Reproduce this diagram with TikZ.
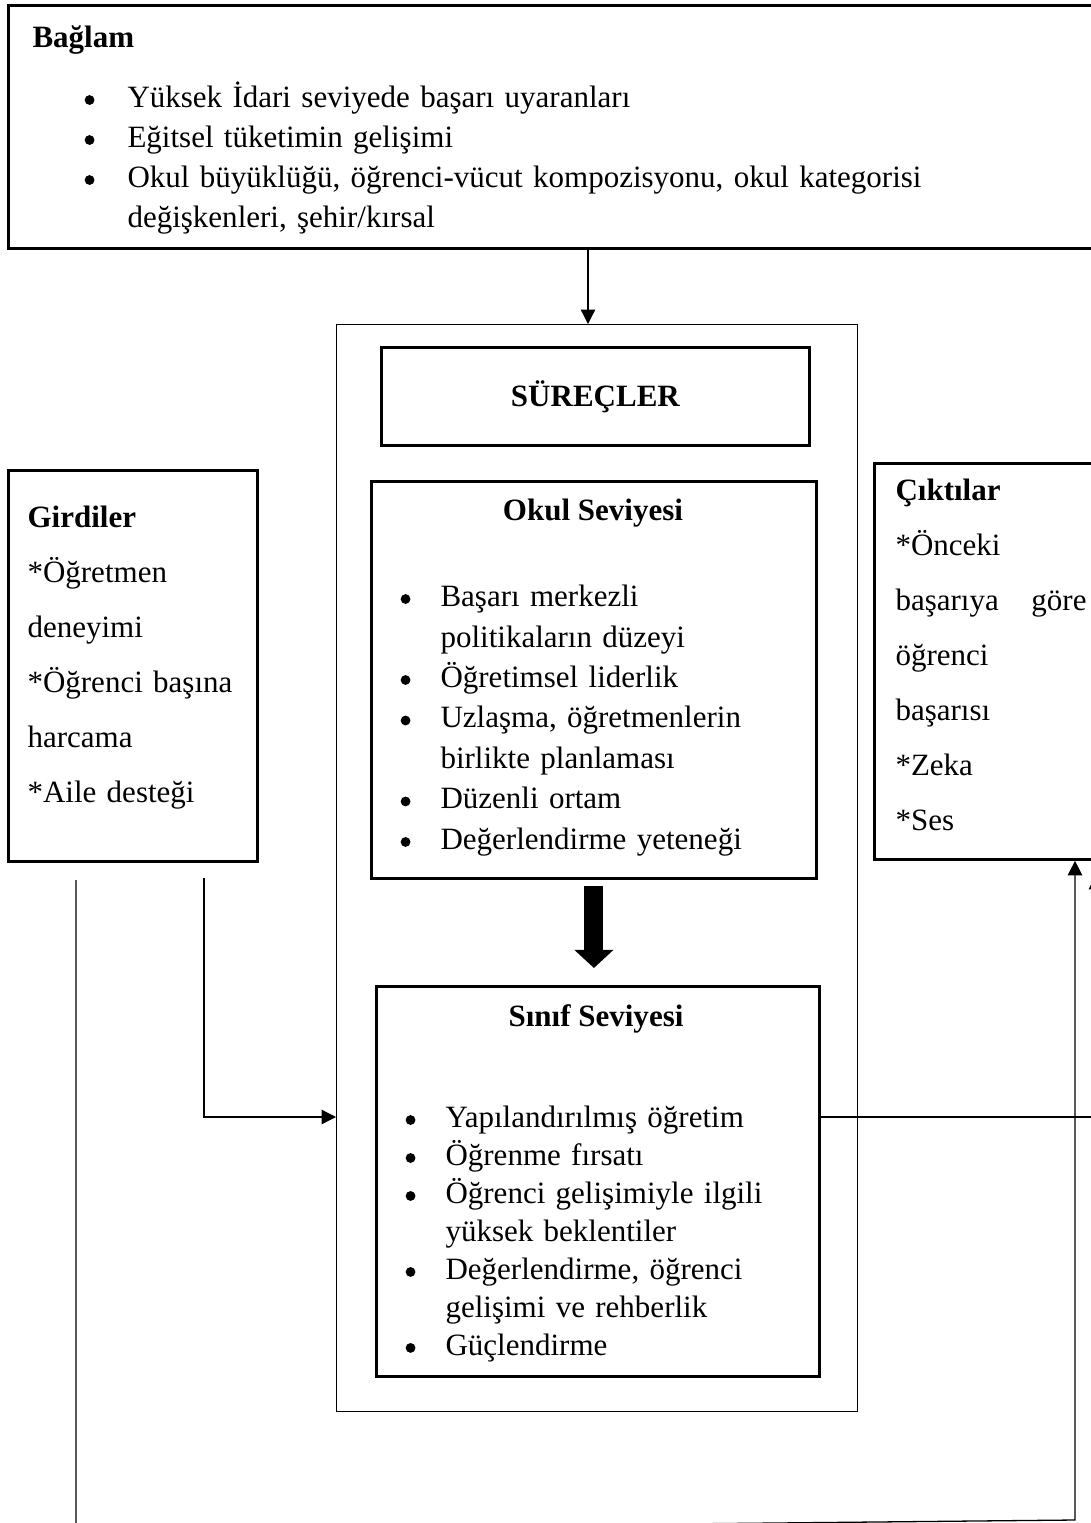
\documentclass[tikz,border=0pt]{standalone}
\usepackage{fontspec}
\setmainfont{Liberation Serif}
\usetikzlibrary{positioning,arrows.meta}
\newlength\pxu
\setlength\pxu{0.387pt}
\newlength\bltw
\newcommand{\bdot}{\tikz[baseline=-2.9pt]\fill (0,0) circle (1.9pt);}
\newcommand{\blt}[1]{\par\noindent\strut\makebox[\bltw][l]{\hspace*{1.6pt}\bdot}#1}
\newcommand{\bcont}[1]{\par\noindent\strut\hspace*{\bltw}#1}
\newcommand{\tline}[1]{\par\noindent\strut#1}

\tikzset{
  box/.style={draw, line width=1.1pt, inner sep=0pt, anchor=north west},
  outer/.style={draw, line width=0.5pt, inner sep=0pt, anchor=north west},
  head/.style={font=\fontsize{12pt}{15pt}\selectfont\bfseries, inner sep=0pt, anchor=base},
  txtlist/.style={inner sep=0pt, anchor=north west, text width=#1},
  link/.style={line width=0.5pt, -{Triangle[length=5.6pt,width=5.6pt]}},
  bigarrow/.style={line width=7.3pt, -{Triangle[length=7pt,width=14.7pt]}},
}

\begin{document}
\begin{tikzpicture}[x=\pxu, y=-\pxu]
  \useasboundingbox (0,0) rectangle (1091,1523);
  % context
  \node[box, line width=1.2pt, minimum width=1100\pxu, minimum height=243\pxu] (baglam) at (7,4) {};
  \node[head, anchor=base west] (baglamT) at (32,47) {Bağlam};
  \node[txtlist=1000\pxu, font=\fontsize{12pt}{15.48pt}\selectfont] (baglamL) at (80,67) {\setlength\bltw{47\pxu}%
    \blt{Yüksek İdari seviyede başarı uyaranları}
    \blt{Eğitsel tüketimin gelişimi}
    \blt{Okul büyüklüğü, öğrenci-vücut kompozisyonu, okul kategorisi}
    \bcont{değişkenleri, şehir/kırsal}};
  % processes
  \node[outer, minimum width=521\pxu, minimum height=1087\pxu] (proc) at (336,324) {};
  \node[box, minimum width=428\pxu, minimum height=98\pxu, font=\fontsize{12pt}{15pt}\selectfont\bfseries] (surec) at (380,346) {SÜREÇLER};
  % school level
  \node[box, minimum width=445\pxu, minimum height=397\pxu] (okul) at (370,480) {};
  \node[head] (okulT) at (593,520) {Okul Seviyesi};
  \node[txtlist=420\pxu, font=\fontsize{12pt}{15.67pt}\selectfont] (okulL) at (396,565.5) {\setlength\bltw{44\pxu}%
    \blt{Başarı merkezli}
    \bcont{politikaların düzeyi}
    \blt{Öğretimsel liderlik}
    \blt{Uzlaşma, öğretmenlerin}
    \bcont{birlikte planlaması}
    \blt{Düzenli ortam}
    \blt{Değerlendirme yeteneği}};
  % class level
  \node[box, minimum width=443\pxu, minimum height=390\pxu] (sinif) at (375,985) {};
  \node[head] (sinifT) at (596,1026) {Sınıf Seviyesi};
  \node[txtlist=420\pxu, font=\fontsize{12pt}{14.7pt}\selectfont] (sinifL) at (401,1089) {\setlength\bltw{44\pxu}%
    \blt{Yapılandırılmış öğretim}
    \blt{Öğrenme fırsatı}
    \blt{Öğrenci gelişimiyle ilgili}
    \bcont{yüksek beklentiler}
    \blt{Değerlendirme, öğrenci}
    \bcont{gelişimi ve rehberlik}
    \blt{Güçlendirme}};
  % inputs
  \node[box, minimum width=249\pxu, minimum height=391\pxu] (girdi) at (7,469) {};
  \node[txtlist=225\pxu, font=\fontsize{12pt}{21.3pt}\selectfont] (girdiL) at (27,472) {%
    \tline{\textbf{Girdiler}}
    \tline{*Öğretmen}
    \tline{deneyimi}
    \tline{*Öğrenci başına}
    \tline{harcama}
    \tline{*Aile desteği}};
  % outputs
  \node[box, minimum width=230\pxu, minimum height=396\pxu] (cikti) at (873,462) {};
  \node[txtlist=200\pxu, font=\fontsize{12pt}{21.3pt}\selectfont] (ciktiL) at (895,445) {%
    \tline{\textbf{Çıktılar}}
    \tline{*Önceki}
    \tline{\hbox to 191\pxu{başarıya\hfil göre}}
    \tline{öğrenci}
    \tline{başarısı}
    \tline{*Zeka}
    \tline{*Ses}};

  % connectors
  \coordinate (topX) at (588,0);
  \coordinate (flow) at (0,1117);
  \coordinate (gA) at (204,878);
  \coordinate (gB) at (76,880);
  \coordinate (rX) at (1096,0);
  \coordinate (bL) at (76,1530);
  \coordinate (bR) at (1075,1520);
  \coordinate (bigTip) at ([yshift=17\pxu]sinif.north);
  \draw[link] (baglam.south -| topX) -- (proc.north -| topX);
  \draw[bigarrow] ([yshift=-6\pxu]okul.south) -- (bigTip -| okul.south);
  \draw[link] (gA) |- (proc.west |- flow);
  \draw[link] (sinif.east |- flow) -| ([yshift=-14\pxu]cikti.south -| rX);
  \draw[link] (gB) -- (bL) -- (bR) -- (bR |- cikti.south);
\end{tikzpicture}
\end{document}
